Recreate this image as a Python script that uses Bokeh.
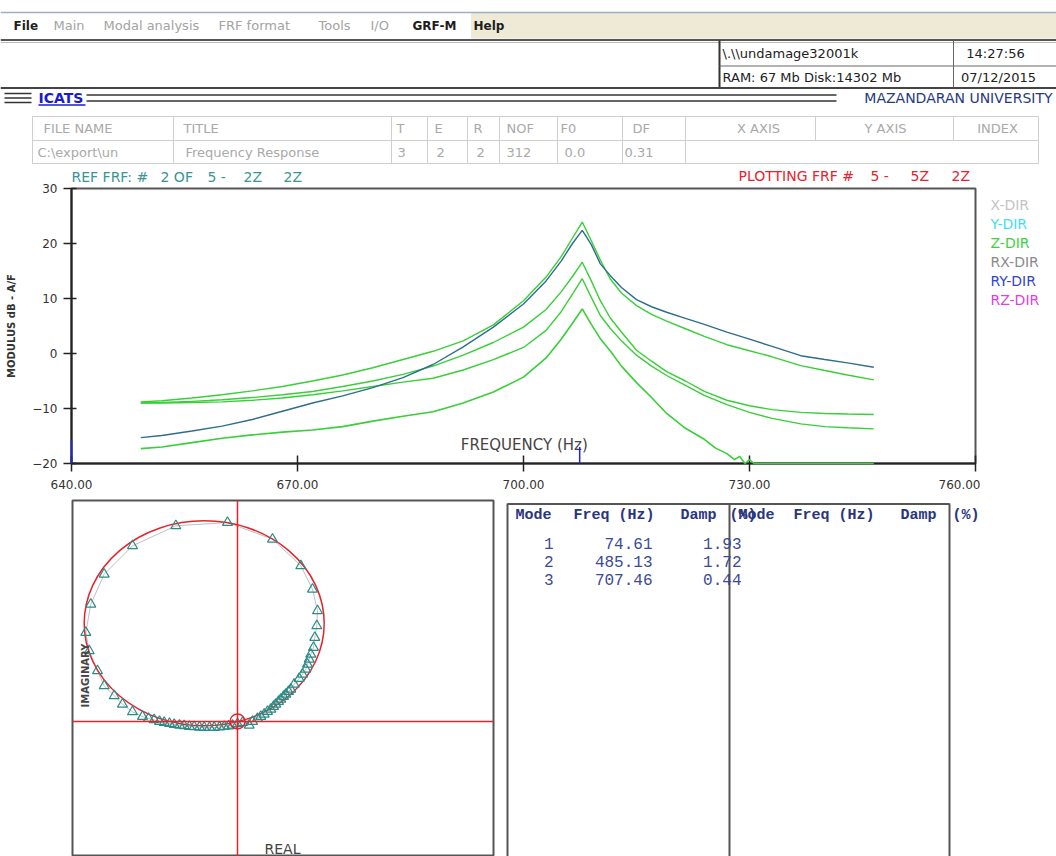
import math
from bokeh.plotting import figure
from bokeh.layouts import column, row
from bokeh.models import Range1d, FixedTicker, PrintfTickFormatter, Span, Label
from bokeh.core.properties import value
from bokeh.embed import file_html
from bokeh.resources import INLINE

# ======================= DATA =======================
FREQ = [649.2, 652, 656, 660, 664, 668, 672, 676, 680, 684, 688, 692, 696, 700,
        703, 705, 706.5, 707.8, 709, 710.2, 711.5, 713, 715, 717, 719, 721.5,
        724, 727, 730, 733, 736.8, 740, 743, 746.5]
REF_FRF = [-15.3, -14.9, -14.1, -13.2, -12.0, -10.5, -9.0, -7.7, -6.2, -4.4, -2.0, 1.2,
           4.8, 9.0, 13.2, 16.8, 20.0, 22.4, 19.8, 16.3, 14.2, 12.0, 9.8, 8.5, 7.5,
           6.4, 5.3, 3.9, 2.6, 1.3, -0.4, -1.1, -1.7, -2.5]
FRF_A = [-8.8, -8.6, -8.1, -7.5, -6.8, -6.0, -5.0, -3.9, -2.6, -1.1, 0.4, 2.3, 5.2, 9.6,
         13.9, 17.6, 21.0, 23.9, 20.5, 17.0, 13.6, 11.0, 8.7, 7.1, 5.9, 4.5, 3.1, 1.6,
         0.5, -0.6, -2.2, -3.1, -3.9, -4.8]
FRF_B = [-9.0, -8.9, -8.7, -8.4, -8.0, -7.5, -6.9, -6.0, -5.0, -3.8, -2.3, -0.3, 2.0, 4.8,
         8.0, 11.2, 14.0, 16.6, 13.2, 9.6, 6.5, 3.9, 0.6, -1.4, -3.3, -5.0, -6.9, -8.5,
         -9.5, -10.2, -10.7, -10.9, -11.0, -11.1]
FRF_C = [-9.0, -9.0, -8.9, -8.8, -8.5, -8.1, -7.5, -6.8, -6.0, -5.2, -4.5, -3.0, -1.1, 1.1,
         4.2, 7.6, 10.8, 13.6, 10.2, 6.9, 4.6, 2.3, -0.3, -2.3, -4.0, -5.8, -7.6, -9.3,
         -10.7, -11.8, -12.8, -13.3, -13.5, -13.7]
FREQ_D = [649.2, 652, 656, 660, 664, 668, 672, 676, 680, 684, 688, 692, 696, 700, 703,
          705, 706.5, 707.8, 709, 710.2, 711.5, 713, 715, 717, 719, 721.5, 724, 725.5,
          727, 728, 728.7, 729.4, 730, 730.6, 733, 736.8, 740, 743, 746.5]
FRF_D = [-17.3, -17.0, -16.2, -15.4, -14.8, -14.3, -13.9, -13.3, -12.3, -11.4, -10.6, -9.0,
         -7.0, -4.3, -0.8, 2.6, 5.5, 8.1, 5.3, 2.7, 0.5, -2.3, -5.3, -8.0, -10.9, -13.6,
         -15.6, -17.2, -18.2, -19.3, -18.7, -20.0, -19.3, -20.0, -20.0, -20.0, -20.0,
         -20.0, -20.0]

X_TICKS = [640, 670, 700, 730, 760]
Y_TICKS = [-20, -10, 0, 10, 20, 30]

MODE_NO = [1, 2, 3]
MODE_FREQ = [74.61, 485.13, 707.46]
MODE_DAMP = [1.93, 1.72, 0.44]

NYQ_RE = [0.05, 0.117, 0.15, 0.2, 0.233, 0.267, 0.3, 0.333, 0.36, 0.383, 0.41, 0.433,
          0.46, 0.483, 0.51, 0.533, 0.567, 0.617, 0.65, 0.683, 0.7, 0.717, 0.733, 0.76,
          0.773, 0.793, 0.8, 0.75, 0.633, 0.35, -0.1, -0.617, -1.05, -1.333, -1.467,
          -1.517, -1.483, -1.4, -1.333, -1.233, -1.15, -1.05, -0.95, -0.89, -0.833,
          -0.78, -0.733, -0.68, -0.633, -0.58, -0.533, -0.48, -0.433, -0.38, -0.333,
          -0.28, -0.233, -0.18, -0.133, -0.09, -0.05, 0.0]
NYQ_IM = [-0.01, -0.037, 0.0, 0.03, 0.05, 0.073, 0.1, 0.123, 0.15, 0.173, 0.2, 0.223,
          0.25, 0.273, 0.3, 0.323, 0.373, 0.43, 0.473, 0.523, 0.573, 0.623, 0.673, 0.74,
          0.84, 0.957, 1.107, 1.323, 1.557, 1.823, 1.99, 1.957, 1.757, 1.473, 1.173,
          0.89, 0.707, 0.507, 0.357, 0.257, 0.173, 0.097, 0.05, 0.03, 0.017, 0.0,
          -0.01, -0.02, -0.03, -0.037, -0.043, -0.05, -0.053, -0.057, -0.06, -0.06,
          -0.06, -0.056, -0.05, -0.045, -0.037, -0.023]
FIT_CX, FIT_CY = -0.333, 0.982
FIT_W, FIT_H = 2.40, 2.05

DIR_LABELS = ["X-DIR", "Y-DIR", "Z-DIR", "RX-DIR", "RY-DIR", "RZ-DIR"]
DIR_COLORS = ["#c4c4c4", "#3fe0ee", "#3ed23e", "#8a8a8a", "#3344cc", "#e040e0"]

MENU_ITEMS = ["File", "Main", "Modal analysis", "FRF format", "Tools", "I/O", "GRF-M", "Help"]
MENU_ACTIVE = [True, False, False, False, False, False, True, True]
TABLE_HEAD = ["FILE NAME", "TITLE", "T", "E", "R", "NOF", "F0", "DF", "X AXIS", "Y AXIS", "INDEX"]
TABLE_ROW = ["C:\\export\\un", "Frequency Response", "3", "2", "2", "312", "0.0", "0.31"]
INFO_TEXT = ["\\.\\\\undamage32001k", "RAM:  67 Mb Disk:14302 Mb", "14:27:56", "07/12/2015"]
REF_TOKENS = ["REF FRF: #", "2 OF", "5 -", "2Z", "2Z"]
PLOT_TOKENS = ["PLOTTING FRF #", "5 -", "5Z", "2Z"]
TABLE_HEAD_COLS = ["Mode", "Freq (Hz)", "Damp", "(%)"]

# ======================= STYLE / LAYOUT =======================
SANS = value("DejaVu Sans")
MONO = value("Liberation Mono")
GREEN = "#38cf38"
BLUE = "#2f6d8a"
RED = "#e8222c"
TEAL = "#2e8b84"
W, H = 1056, 856

MENU_X = [13, 53, 103, 218, 318, 370, 412, 473]
HEAD_X = [43, 183, 396, 434, 473, 506, 560, 632, 758, 885, 997]
ROW_X = [37, 185, 397, 436, 476, 506, 564, 624]
REF_X = [71, 160, 207, 243, 283]
PLOT_X = [738, 870, 910, 951]


def pix_fig(x0, x1, y0, y1):
    p = figure(width=x1 - x0, height=y1 - y0, x_range=Range1d(x0, x1),
               y_range=Range1d(y1, y0), output_backend="svg", toolbar_location=None,
               min_border=0, x_axis_type=None, y_axis_type=None)
    p.outline_line_color = None
    p.grid.visible = False
    return p


def seg(p, pts, color, width):
    p.segment(x0=[a[0] for a in pts], y0=[a[1] for a in pts],
              x1=[a[2] for a in pts], y1=[a[3] for a in pts],
              line_color=color, line_width=width)


# ---------- header (menu, info, table, FRF captions) ----------
hdr = pix_fig(0, W, 0, 183)
hdr.quad(left=[471], right=[W], top=[13], bottom=[37.5], color="#eeead5")
seg(hdr, [(0, 12, W, 12)], "#9db0c8", 1.5)
seg(hdr, [(0, 39.5, W, 39.5)], "#555555", 2)
seg(hdr, [(0, 42, W, 42)], "#bbbbbb", 1)
for txt, x, act in zip(MENU_ITEMS, MENU_X, MENU_ACTIVE):
    hdr.text(x=[x], y=[25], text=[txt], text_font=SANS,
             text_font_size="12px" if act else "13px",
             text_font_style="bold" if act else "normal",
             text_color="#1e1e1e" if act else "#a3a3a3",
             text_baseline="middle", text_align="left")
# info box
seg(hdr, [(719, 40, 719, 88)], "#333333", 2)
seg(hdr, [(719, 65.5, W, 65.5)], "#666666", 1)
seg(hdr, [(953, 40, 953, 88)], "#666666", 1)
seg(hdr, [(0, 87.5, W, 87.5)], "#444444", 2)
hdr.text(x=[722, 722], y=[53, 77], text=INFO_TEXT[:2], text_font=SANS,
         text_font_size="13px", text_color="#222222", text_baseline="middle")
hdr.text(x=[995, 998], y=[53, 77], text=INFO_TEXT[2:], text_font=SANS,
         text_font_size="13px", text_color="#222222", text_baseline="middle",
         text_align="center")
# ICATS bar
seg(hdr, [(4, 93, 31, 93), (4, 97.5, 31, 97.5), (4, 102, 31, 102),
          (86, 94.5, 836, 94.5), (86, 100.5, 836, 100.5)], "#333333", 1.5)
hdr.text(x=[38], y=[97], text=["ICATS"], text_font=SANS, text_font_size="14px",
         text_font_style="bold", text_color="#1a1ad0", text_baseline="middle")
seg(hdr, [(38, 104.5, 85, 104.5)], "#1a1ad0", 1.5)
hdr.text(x=[1052], y=[97], text=["MAZANDARAN UNIVERSITY"], text_font=SANS,
         text_font_size="14px", text_color="#263a80", text_baseline="middle",
         text_align="right")
# file table
grid_lines = [(32, 116, 1038, 116), (32, 140, 1038, 140), (32, 163, 1038, 163),
              (32, 116, 32, 163), (1038, 116, 1038, 163),
              (815, 116, 815, 140), (953, 116, 953, 140)]
for xv in [173, 391, 427, 467, 499, 557, 622, 685]:
    grid_lines.append((xv, 116, xv, 163))
seg(hdr, grid_lines, "#cfcfcf", 1)
hdr.text(x=HEAD_X[:8], y=[128] * 8, text=TABLE_HEAD[:8], text_font=SANS,
         text_font_size="13px", text_color="#a9a9a9", text_baseline="middle")
hdr.text(x=HEAD_X[8:], y=[128] * 3, text=TABLE_HEAD[8:], text_font=SANS,
         text_font_size="13px", text_color="#a9a9a9", text_baseline="middle",
         text_align="center")
hdr.text(x=ROW_X, y=[152] * len(ROW_X), text=TABLE_ROW, text_font=SANS,
         text_font_size="13px", text_color="#a9a9a9", text_baseline="middle")
# FRF captions
hdr.text(x=REF_X, y=[176] * len(REF_X), text=REF_TOKENS, text_font=SANS,
         text_font_size="14px", text_color="#3a9595", text_baseline="middle")
hdr.text(x=PLOT_X, y=[175.5] * len(PLOT_X), text=PLOT_TOKENS, text_font=SANS,
         text_font_size="14px", text_color=RED, text_baseline="middle")

# ---------- FRF modulus plot ----------
frf = figure(width=980, height=314, x_range=Range1d(640, 760), y_range=Range1d(-20, 30),
             output_backend="svg", toolbar_location=None, min_border_left=71,
             min_border_right=5, min_border_top=5, min_border_bottom=34)
frf.grid.visible = False
frf.outline_line_color = "#555555"
frf.outline_line_width = 2
for ax in (frf.xaxis[0], frf.yaxis[0]):
    ax.axis_line_color = "#222222"
    ax.axis_line_width = 2
    ax.major_tick_line_color = "#222222"
    ax.major_tick_line_width = 1.5
    ax.minor_tick_line_color = None
    ax.major_label_text_font = "DejaVu Sans"
    ax.major_label_text_font_size = "12px"
    ax.major_label_text_color = "#333333"
frf.xaxis.ticker = FixedTicker(ticks=X_TICKS)
frf.xaxis.formatter = PrintfTickFormatter(format="%.2f")
frf.xaxis.major_tick_in = 8
frf.xaxis.major_tick_out = 8
frf.xaxis.major_label_standoff = 8
frf.yaxis.ticker = FixedTicker(ticks=Y_TICKS)
frf.yaxis.major_tick_in = 5
frf.yaxis.major_tick_out = 8
frf.yaxis.major_label_standoff = 6
frf.yaxis.axis_label = "MODULUS dB - A/F"
frf.yaxis.axis_label_text_font = "DejaVu Sans"
frf.yaxis.axis_label_text_font_size = "10px"
frf.yaxis.axis_label_text_font_style = "bold"
frf.yaxis.axis_label_text_color = "#333333"
frf.yaxis.axis_label_standoff = 12

for ys in (FRF_B, FRF_C, FRF_A):
    frf.line(FREQ, ys, line_color=GREEN, line_width=1.4)
frf.line(FREQ, REF_FRF, line_color=BLUE, line_width=1.4)
frf.line(FREQ_D, FRF_D, line_color=GREEN, line_width=1.6, level="overlay")
frf.segment(x0=[X_TICKS[0], MODE_FREQ[2]], y0=[-15.8, -17.0],
            x1=[X_TICKS[0], MODE_FREQ[2]], y1=[-20, -20],
            line_color="#2222dd", line_width=1.5, level="overlay")
frf.add_layout(Label(x=700.1, y=-16.7, text="FREQUENCY (Hz)", text_font="DejaVu Sans",
                     text_font_size="15px", text_color="#444444", text_align="center",
                     text_baseline="middle"))

# legend column
leg = pix_fig(980, W, 183, 497)
leg.text(x=[990] * 6, y=[201.5 + 21.8 * i for i in range(6)], text=DIR_LABELS,
         text_color=DIR_COLORS, text_font=SANS, text_font_size="14px",
         text_baseline="middle")

# ---------- Nyquist plot ----------
nyq = figure(width=500, height=H - 497, x_range=Range1d(-1.65, 2.56),
             y_range=Range1d(-1.35, 2.21), output_backend="svg", toolbar_location=None,
             min_border_left=72, min_border_right=7, min_border_top=3,
             min_border_bottom=0, x_axis_type=None, y_axis_type=None)
nyq.grid.visible = False
nyq.outline_line_color = "#555555"
nyq.outline_line_width = 2
nyq.add_layout(Span(location=0, dimension="height", line_color=RED, line_width=1.5))
nyq.add_layout(Span(location=0, dimension="width", line_color=RED, line_width=1.5))
nyq.line(NYQ_RE, NYQ_IM, line_color="#9aa8a8", line_width=0.7)
nyq.ellipse(x=[FIT_CX], y=[FIT_CY], width=[FIT_W], height=[FIT_H], fill_color=None,
            line_color=RED, line_width=1.5)
nyq.scatter(NYQ_RE, NYQ_IM, marker="triangle", size=10, fill_color=None,
            line_color=TEAL, line_width=1.2)
nyq.scatter([0], [0], marker="circle", size=15, fill_color=None, line_color=RED,
            line_width=1.3)
nyq.text(x=[-1.52], y=[0.46], text=["IMAGINARY"], angle=math.pi / 2, text_font=SANS,
         text_font_size="10px", text_font_style="bold", text_color="#444444",
         text_align="center", text_baseline="middle")
nyq.text(x=[0.45], y=[-1.27], text=["REAL"], text_font=SANS, text_font_size="14px",
         text_color="#444444", text_align="center", text_baseline="middle")

# ---------- modal parameter table ----------
tbl = pix_fig(500, W, 497, H)
seg(tbl, [(507, 500, 507, H), (729, 500, 729, H), (949, 500, 949, H),
          (507, 500.5, 949, 500.5)], "#555555", 2)
for x0, words in [(515, TABLE_HEAD_COLS), (738, TABLE_HEAD_COLS)]:
    offs = [0, 58, 165, 214] if x0 == 515 else [0, 55, 162, 214]
    tbl.text(x=[x0 + o for o in offs], y=[512] * 4, text=words, text_font=MONO,
             text_font_size="15px", text_font_style="bold", text_color="#2a3580",
             text_baseline="middle")
row_y = [540 + 18.5 * i for i in range(len(MODE_NO))]
tbl.text(x=[553] * 3, y=row_y, text=[str(m) for m in MODE_NO], text_font=MONO,
         text_font_size="16px", text_color="#3a4a9a", text_baseline="middle",
         text_align="right")
tbl.text(x=[652] * 3, y=row_y, text=["%.2f" % f for f in MODE_FREQ], text_font=MONO,
         text_font_size="16px", text_color="#3a4a9a", text_baseline="middle",
         text_align="right")
tbl.text(x=[741] * 3, y=row_y, text=["%.2f" % d for d in MODE_DAMP], text_font=MONO,
         text_font_size="16px", text_color="#3a4a9a", text_baseline="middle",
         text_align="right")

layout = column(hdr, row(frf, leg), row(nyq, tbl))
open("out.html", "w").write(file_html(layout, INLINE))
